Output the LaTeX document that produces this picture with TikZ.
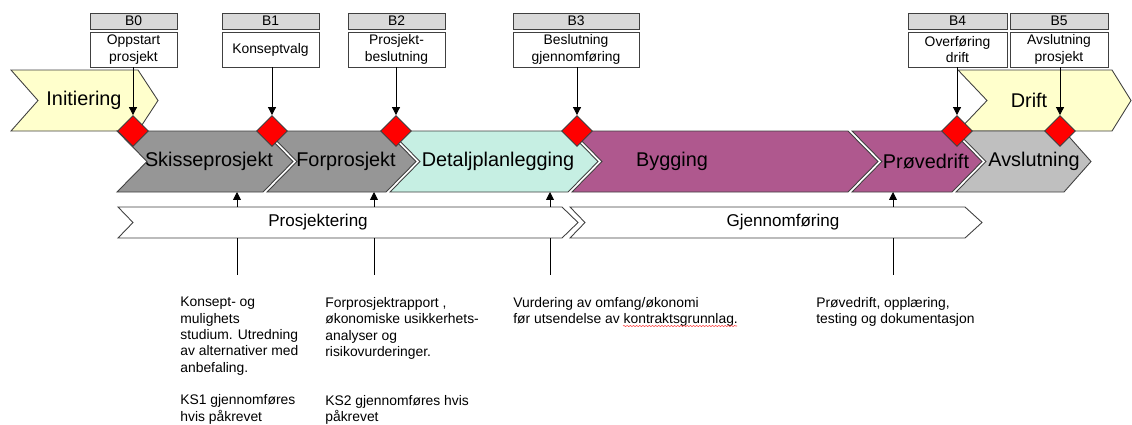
\documentclass[tikz,border=0pt]{standalone}
\usepackage{fontspec}
\setmainfont{Liberation Sans}
\usetikzlibrary{shapes.geometric,arrows.meta,decorations.pathmorphing}

\definecolor{edgegray}{RGB}{64,64,64}
\definecolor{initfill}{RGB}{255,255,204}
\definecolor{skissefill}{RGB}{150,150,150}
\definecolor{detaljfill}{RGB}{198,239,227}
\definecolor{byggfill}{RGB}{175,88,142}
\definecolor{avslfill}{RGB}{191,191,191}
\definecolor{headfill}{RGB}{217,217,217}

\begin{document}
\begin{tikzpicture}[x=0.02cm,y=-0.02cm,
    stagebox/.style={draw=edgegray, line width=0.5pt},
    stagetext/.style={inner sep=0pt, font=\fontsize{11.3}{13}\selectfont},
    phasetext/.style={inner sep=0pt, font=\fontsize{9.7}{11}\selectfont},
    milehead/.style={draw=edgegray, fill=headfill, line width=0.5pt, minimum height=0.32cm, inner sep=0pt, font=\fontsize{7.9}{9}\selectfont},
    milebox/.style={draw=edgegray, fill=white, line width=0.5pt, minimum height=0.7cm, inner sep=0pt, align=center, font=\fontsize{7.9}{9.4}\selectfont},
    gate/.style={diamond, draw=edgegray, fill=red, line width=0.5pt, minimum width=0.62cm, minimum height=0.62cm, inner sep=0pt},
    notetext/.style={anchor=north west, inner sep=0pt, align=left, font=\fontsize{7.9}{9.3}\selectfont},
    tip/.style={-{Triangle[length=4.5pt,width=4.5pt]}, line width=0.5pt}]
  \useasboundingbox (0,0) rectangle (1132,424);

  % Initiering and Drift
  \draw[stagebox, fill=initfill] (11,70) -- (138,70) -- (158,100.5) -- (138,131) -- (11,131) -- (38,100.5) -- cycle;
  \draw[stagebox, fill=initfill] (958,70) -- (1112,70) -- (1131,100.5) -- (1112,131) -- (958,131) -- (987,100.5) -- cycle;
  \node[stagetext] (init) at (84,100.5) {Initiering};
  \node[stagetext] (drift) at (1029,100.5) {Drift};

  % Project stages
  \draw[stagebox, fill=skissefill] (117,131) -- (263,131) -- (293,161.5) -- (263,192) -- (117,192) -- (147,161.5) -- cycle;
  \draw[stagebox, fill=skissefill] (267,131) -- (386,131) -- (416,161.5) -- (386,192) -- (267,192) -- (297,161.5) -- cycle;
  \draw[stagebox, fill=detaljfill] (390,131) -- (568,131) -- (598,161.5) -- (568,192) -- (390,192) -- (420,161.5) -- cycle;
  \draw[stagebox, fill=byggfill] (572,131) -- (848,131) -- (878,161.5) -- (848,192) -- (572,192) -- (602,161.5) -- cycle;
  \draw[stagebox, fill=byggfill] (852,131) -- (952,131) -- (982,161.5) -- (952,192) -- (852,192) -- (882,161.5) -- cycle;
  \draw[stagebox, fill=avslfill] (956,131) -- (1064,131) -- (1091,161.5) -- (1064,192) -- (956,192) -- (986,161.5) -- cycle;
  \node[stagetext] (skisse) at (209,161.5) {Skisseprosjekt};
  \node[stagetext] (forpro) at (346,161.5) {Forprosjekt};
  \node[stagetext] (detalj) at (498,161.5) {Detaljplanlegging};
  \node[stagetext] (bygg) at (672,161.5) {Bygging};
  \node[stagetext] (provdr) at (926,161.5) {Prøvedrift};
  \node[stagetext] (avsl) at (1034,161.5) {Avslutning};

  % Phases
  \draw[stagebox, fill=white] (118,207) -- (562,207) -- (578,222.5) -- (562,238) -- (118,238) -- (133,222.5) -- cycle;
  \draw[stagebox, fill=white] (570,207) -- (965,207) -- (982,222.5) -- (965,238) -- (570,238) -- (585,222.5) -- cycle;
  \node[phasetext] (prosj) at (318,222.5) {Prosjektering};
  \node[phasetext] (gjenn) at (783,222.5) {Gjennomføring};

  % Decision gates
  \node[milehead, minimum width=1.74cm] (h0) at (133.5,21) {B0};
  \node[milehead, minimum width=1.94cm] (h1) at (270.5,21) {B1};
  \node[milehead, minimum width=1.94cm] (h2) at (396.5,21) {B2};
  \node[milehead, minimum width=2.52cm] (h3) at (576,21) {B3};
  \node[milehead, minimum width=1.98cm] (h4) at (957.5,21) {B4};
  \node[milehead, minimum width=1.96cm] (h5) at (1059,21) {B5};
  \node[milebox, minimum width=1.74cm] (l0) at (133.5,49.5) {Oppstart\\prosjekt};
  \node[milebox, minimum width=1.94cm] (l1) at (270.5,49.5) {Konseptvalg};
  \node[milebox, minimum width=1.94cm] (l2) at (396.5,49.5) {Prosjekt-\\beslutning};
  \node[milebox, minimum width=2.52cm] (l3) at (576,49.5) {Beslutning\\gjennomføring};
  \node[milebox, minimum width=1.98cm] (l4) at (957.5,49.5) {Overføring\\drift};
  \node[milebox, minimum width=1.96cm] (l5) at (1059,49.5) {Avslutning\\prosjekt};
  \node[gate] (d0) at (133,131) {};
  \node[gate] (d1) at (272,131) {};
  \node[gate] (d2) at (396,131) {};
  \node[gate] (d3) at (577,131) {};
  \node[gate] (d4) at (957,131) {};
  \node[gate] (d5) at (1060,131) {};
  \foreach \n in {0,...,5}
    \draw[tip] (d\n |- l\n.south) -- (d\n.north);

  % Links to the notes
  \foreach \n/\x in {1/237,2/374,3/550,4/893} {
    \coordinate (st\n) at (\x,192);
    \coordinate (up\n) at (\x,207);
    \coordinate (bt\n) at (\x,238);
    \coordinate (dn\n) at (\x,275);
    \draw[tip] (up\n) -- (st\n);
    \draw[line width=0.5pt] (bt\n) -- (dn\n);
  }

  % Notes
  \node[notetext] (n1) at (180,297) {Konsept- og\\mulighets\\studium. Utredning\\av alternativer med\\anbefaling.\\[9.3pt]KS1 gjennomføres\\hvis påkrevet};
  \node[notetext] (n2) at (325,297) {Forprosjektrapport ,\\økonomiske usikkerhets-\\analyser og\\risikovurderinger.\\[18.6pt]KS2 gjennomføres hvis\\påkrevet};
  \node[notetext] (n3) at (513,297) {Vurdering av omfang/økonomi\\før utsendelse av kontraktsgrunnlag.};
  \node[notetext] (n4) at (816,297) {Prøvedrift, opplæring,\\testing og dokumentasjon};
  \draw[red!75, line width=0.3pt, decorate, decoration={snake, amplitude=0.35pt, segment length=1.8pt}] (623,326) -- (737,326);
\end{tikzpicture}
\end{document}
